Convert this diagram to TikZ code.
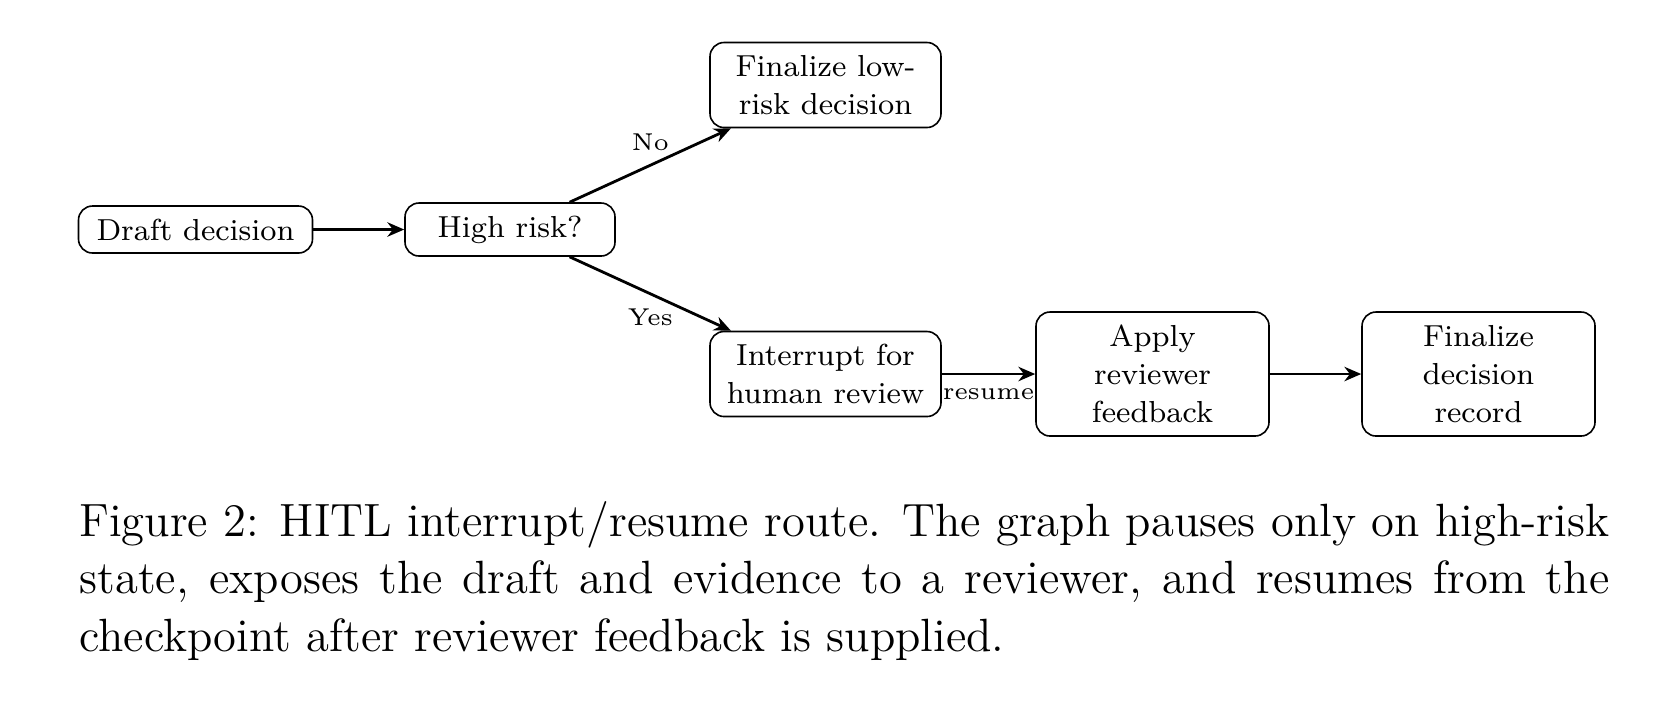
\documentclass[tikz,border=0pt]{standalone}
\usepackage{fontspec}
\usetikzlibrary{arrows.meta}
\tikzset{
  box/.style={draw, line width=0.4pt, rounded corners=3.5pt, align=center,
    font=\fontsize{7.6}{9.5}\selectfont, inner sep=0pt},
  lab/.style={font=\fontsize{6.1}{7.5}\selectfont},
  arr/.style={-{Stealth[length=4.2pt,width=3.6pt]}, line width=0.7pt},
  capt/.style={inner sep=0pt, text width=382.5pt, align=justify,
    font=\fontsize{11.66}{14.4}\selectfont}
}
\begin{document}
\begin{tikzpicture}[x=0.25pt,y=-0.25pt]
\useasboundingbox (0,0) rectangle (1666,700);
\node[box, minimum width=58.5pt, minimum height=11.75pt] (draft) at (195.5,229.5) {Draft decision};
\node[box, minimum width=52.5pt, minimum height=13.25pt] (risk) at (510,229.5) {High risk?};
\node[box, minimum width=57.75pt, minimum height=21.25pt] (low) at (825.5,85) {Finalize low-\\risk decision};
\node[box, minimum width=57.75pt, minimum height=21.25pt] (intr) at (825.5,374) {Interrupt for\\human review};
\node[box, minimum width=58.25pt, minimum height=31pt] (apply) at (1152.5,374) {Apply\\reviewer\\feedback};
\node[box, minimum width=58.25pt, minimum height=31pt] (final) at (1478.5,374) {Finalize\\decision\\record};
\draw[arr] (draft) -- (risk);
\draw[arr] (risk) -- node[lab, above] (no) {No} (low);
\draw[arr] (risk) -- node[lab, below] (yes) {Yes} (intr);
\draw[arr] (intr) -- node[lab, below] (res) {resume} (apply);
\draw[arr] (apply) -- (final);
\node[capt, anchor=base west] (cap) at (78.6,536) {\spaceskip=0pt\xspaceskip=0pt\relax
\hbox to 382.5pt{Figure 2: HITL interrupt/resume route. The graph pauses only on high-risk}\par
\hbox to 382.5pt{state, exposes the draft and evidence to a reviewer, and resumes from the}\par
\hbox{checkpoint after reviewer feedback is supplied.}};
\end{tikzpicture}
\end{document}
